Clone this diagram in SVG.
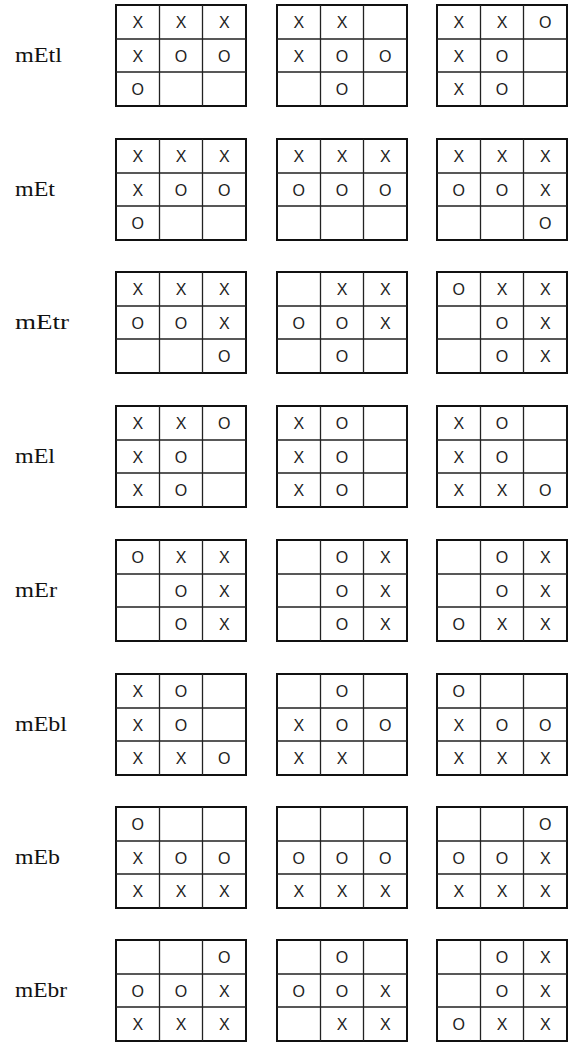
<svg xmlns="http://www.w3.org/2000/svg" xmlns:xlink="http://www.w3.org/1999/xlink" width="569" height="1042" viewBox="0 0 569 1042">
<style>
.lbl{font-family:"Liberation Serif","Times New Roman",serif;font-size:21px;fill:#111}
.m{font-family:"Liberation Sans",Arial,sans-serif;font-size:16px;fill:#222;text-anchor:middle}
.outer{fill:#fff;stroke:#111;stroke-width:2}
.inner{fill:none;stroke:#222;stroke-width:1.3}
</style>
<defs>
<g id="grid">
<rect class="outer" x="0" y="0" width="130" height="101"/>
<path class="inner" d="M43.5,0V101M86.5,0V101M0,34H130M0,67H130"/>
</g>
</defs>
<rect width="569" height="1042" fill="#fff"/>

<g id="row-mEtl" transform="translate(0,5)">
<text class="lbl" x="15" y="56.5" textLength="47" lengthAdjust="spacingAndGlyphs">mEtl</text>
<g id="mEtl-1" transform="translate(116,0)"><use xlink:href="#grid"/>
<text class="m" x="21.75" y="23">X</text><text class="m" x="65" y="23">X</text><text class="m" x="108.25" y="23">X</text>
<text class="m" x="21.75" y="56.5">X</text><text class="m" x="65" y="56.5">O</text><text class="m" x="108.25" y="56.5">O</text>
<text class="m" x="21.75" y="90">O</text></g>
<g id="mEtl-2" transform="translate(277,0)"><use xlink:href="#grid"/>
<text class="m" x="21.75" y="23">X</text><text class="m" x="65" y="23">X</text>
<text class="m" x="21.75" y="56.5">X</text><text class="m" x="65" y="56.5">O</text><text class="m" x="108.25" y="56.5">O</text>
<text class="m" x="65" y="90">O</text></g>
<g id="mEtl-3" transform="translate(437,0)"><use xlink:href="#grid"/>
<text class="m" x="21.75" y="23">X</text><text class="m" x="65" y="23">X</text><text class="m" x="108.25" y="23">O</text>
<text class="m" x="21.75" y="56.5">X</text><text class="m" x="65" y="56.5">O</text>
<text class="m" x="21.75" y="90">X</text><text class="m" x="65" y="90">O</text></g>
</g>

<g id="row-mEt" transform="translate(0,139)">
<text class="lbl" x="15" y="56.5" textLength="40" lengthAdjust="spacingAndGlyphs">mEt</text>
<g id="mEt-1" transform="translate(116,0)"><use xlink:href="#grid"/>
<text class="m" x="21.75" y="23">X</text><text class="m" x="65" y="23">X</text><text class="m" x="108.25" y="23">X</text>
<text class="m" x="21.75" y="56.5">X</text><text class="m" x="65" y="56.5">O</text><text class="m" x="108.25" y="56.5">O</text>
<text class="m" x="21.75" y="90">O</text></g>
<g id="mEt-2" transform="translate(277,0)"><use xlink:href="#grid"/>
<text class="m" x="21.75" y="23">X</text><text class="m" x="65" y="23">X</text><text class="m" x="108.25" y="23">X</text>
<text class="m" x="21.75" y="56.5">O</text><text class="m" x="65" y="56.5">O</text><text class="m" x="108.25" y="56.5">O</text></g>
<g id="mEt-3" transform="translate(437,0)"><use xlink:href="#grid"/>
<text class="m" x="21.75" y="23">X</text><text class="m" x="65" y="23">X</text><text class="m" x="108.25" y="23">X</text>
<text class="m" x="21.75" y="56.5">O</text><text class="m" x="65" y="56.5">O</text><text class="m" x="108.25" y="56.5">X</text>
<text class="m" x="108.25" y="90">O</text></g>
</g>

<g id="row-mEtr" transform="translate(0,272)">
<text class="lbl" x="15" y="56.5" textLength="54" lengthAdjust="spacingAndGlyphs">mEtr</text>
<g id="mEtr-1" transform="translate(116,0)"><use xlink:href="#grid"/>
<text class="m" x="21.75" y="23">X</text><text class="m" x="65" y="23">X</text><text class="m" x="108.25" y="23">X</text>
<text class="m" x="21.75" y="56.5">O</text><text class="m" x="65" y="56.5">O</text><text class="m" x="108.25" y="56.5">X</text>
<text class="m" x="108.25" y="90">O</text></g>
<g id="mEtr-2" transform="translate(277,0)"><use xlink:href="#grid"/>
<text class="m" x="65" y="23">X</text><text class="m" x="108.25" y="23">X</text>
<text class="m" x="21.75" y="56.5">O</text><text class="m" x="65" y="56.5">O</text><text class="m" x="108.25" y="56.5">X</text>
<text class="m" x="65" y="90">O</text></g>
<g id="mEtr-3" transform="translate(437,0)"><use xlink:href="#grid"/>
<text class="m" x="21.75" y="23">O</text><text class="m" x="65" y="23">X</text><text class="m" x="108.25" y="23">X</text>
<text class="m" x="65" y="56.5">O</text><text class="m" x="108.25" y="56.5">X</text>
<text class="m" x="65" y="90">O</text><text class="m" x="108.25" y="90">X</text></g>
</g>

<g id="row-mEl" transform="translate(0,406)">
<text class="lbl" x="15" y="56.5" textLength="40" lengthAdjust="spacingAndGlyphs">mEl</text>
<g id="mEl-1" transform="translate(116,0)"><use xlink:href="#grid"/>
<text class="m" x="21.75" y="23">X</text><text class="m" x="65" y="23">X</text><text class="m" x="108.25" y="23">O</text>
<text class="m" x="21.75" y="56.5">X</text><text class="m" x="65" y="56.5">O</text>
<text class="m" x="21.75" y="90">X</text><text class="m" x="65" y="90">O</text></g>
<g id="mEl-2" transform="translate(277,0)"><use xlink:href="#grid"/>
<text class="m" x="21.75" y="23">X</text><text class="m" x="65" y="23">O</text>
<text class="m" x="21.75" y="56.5">X</text><text class="m" x="65" y="56.5">O</text>
<text class="m" x="21.75" y="90">X</text><text class="m" x="65" y="90">O</text></g>
<g id="mEl-3" transform="translate(437,0)"><use xlink:href="#grid"/>
<text class="m" x="21.75" y="23">X</text><text class="m" x="65" y="23">O</text>
<text class="m" x="21.75" y="56.5">X</text><text class="m" x="65" y="56.5">O</text>
<text class="m" x="21.75" y="90">X</text><text class="m" x="65" y="90">X</text><text class="m" x="108.25" y="90">O</text></g>
</g>

<g id="row-mEr" transform="translate(0,540)">
<text class="lbl" x="15" y="56.5" textLength="42" lengthAdjust="spacingAndGlyphs">mEr</text>
<g id="mEr-1" transform="translate(116,0)"><use xlink:href="#grid"/>
<text class="m" x="21.75" y="23">O</text><text class="m" x="65" y="23">X</text><text class="m" x="108.25" y="23">X</text>
<text class="m" x="65" y="56.5">O</text><text class="m" x="108.25" y="56.5">X</text>
<text class="m" x="65" y="90">O</text><text class="m" x="108.25" y="90">X</text></g>
<g id="mEr-2" transform="translate(277,0)"><use xlink:href="#grid"/>
<text class="m" x="65" y="23">O</text><text class="m" x="108.25" y="23">X</text>
<text class="m" x="65" y="56.5">O</text><text class="m" x="108.25" y="56.5">X</text>
<text class="m" x="65" y="90">O</text><text class="m" x="108.25" y="90">X</text></g>
<g id="mEr-3" transform="translate(437,0)"><use xlink:href="#grid"/>
<text class="m" x="65" y="23">O</text><text class="m" x="108.25" y="23">X</text>
<text class="m" x="65" y="56.5">O</text><text class="m" x="108.25" y="56.5">X</text>
<text class="m" x="21.75" y="90">O</text><text class="m" x="65" y="90">X</text><text class="m" x="108.25" y="90">X</text></g>
</g>

<g id="row-mEbl" transform="translate(0,674)">
<text class="lbl" x="15" y="56.5" textLength="52" lengthAdjust="spacingAndGlyphs">mEbl</text>
<g id="mEbl-1" transform="translate(116,0)"><use xlink:href="#grid"/>
<text class="m" x="21.75" y="23">X</text><text class="m" x="65" y="23">O</text>
<text class="m" x="21.75" y="56.5">X</text><text class="m" x="65" y="56.5">O</text>
<text class="m" x="21.75" y="90">X</text><text class="m" x="65" y="90">X</text><text class="m" x="108.25" y="90">O</text></g>
<g id="mEbl-2" transform="translate(277,0)"><use xlink:href="#grid"/>
<text class="m" x="65" y="23">O</text>
<text class="m" x="21.75" y="56.5">X</text><text class="m" x="65" y="56.5">O</text><text class="m" x="108.25" y="56.5">O</text>
<text class="m" x="21.75" y="90">X</text><text class="m" x="65" y="90">X</text></g>
<g id="mEbl-3" transform="translate(437,0)"><use xlink:href="#grid"/>
<text class="m" x="21.75" y="23">O</text>
<text class="m" x="21.75" y="56.5">X</text><text class="m" x="65" y="56.5">O</text><text class="m" x="108.25" y="56.5">O</text>
<text class="m" x="21.75" y="90">X</text><text class="m" x="65" y="90">X</text><text class="m" x="108.25" y="90">X</text></g>
</g>

<g id="row-mEb" transform="translate(0,807)">
<text class="lbl" x="15" y="56.5" textLength="45" lengthAdjust="spacingAndGlyphs">mEb</text>
<g id="mEb-1" transform="translate(116,0)"><use xlink:href="#grid"/>
<text class="m" x="21.75" y="23">O</text>
<text class="m" x="21.75" y="56.5">X</text><text class="m" x="65" y="56.5">O</text><text class="m" x="108.25" y="56.5">O</text>
<text class="m" x="21.75" y="90">X</text><text class="m" x="65" y="90">X</text><text class="m" x="108.25" y="90">X</text></g>
<g id="mEb-2" transform="translate(277,0)"><use xlink:href="#grid"/>
<text class="m" x="21.75" y="56.5">O</text><text class="m" x="65" y="56.5">O</text><text class="m" x="108.25" y="56.5">O</text>
<text class="m" x="21.75" y="90">X</text><text class="m" x="65" y="90">X</text><text class="m" x="108.25" y="90">X</text></g>
<g id="mEb-3" transform="translate(437,0)"><use xlink:href="#grid"/>
<text class="m" x="108.25" y="23">O</text>
<text class="m" x="21.75" y="56.5">O</text><text class="m" x="65" y="56.5">O</text><text class="m" x="108.25" y="56.5">X</text>
<text class="m" x="21.75" y="90">X</text><text class="m" x="65" y="90">X</text><text class="m" x="108.25" y="90">X</text></g>
</g>

<g id="row-mEbr" transform="translate(0,940)">
<text class="lbl" x="15" y="56.5" textLength="52" lengthAdjust="spacingAndGlyphs">mEbr</text>
<g id="mEbr-1" transform="translate(116,0)"><use xlink:href="#grid"/>
<text class="m" x="108.25" y="23">O</text>
<text class="m" x="21.75" y="56.5">O</text><text class="m" x="65" y="56.5">O</text><text class="m" x="108.25" y="56.5">X</text>
<text class="m" x="21.75" y="90">X</text><text class="m" x="65" y="90">X</text><text class="m" x="108.25" y="90">X</text></g>
<g id="mEbr-2" transform="translate(277,0)"><use xlink:href="#grid"/>
<text class="m" x="65" y="23">O</text>
<text class="m" x="21.75" y="56.5">O</text><text class="m" x="65" y="56.5">O</text><text class="m" x="108.25" y="56.5">X</text>
<text class="m" x="65" y="90">X</text><text class="m" x="108.25" y="90">X</text></g>
<g id="mEbr-3" transform="translate(437,0)"><use xlink:href="#grid"/>
<text class="m" x="65" y="23">O</text><text class="m" x="108.25" y="23">X</text>
<text class="m" x="65" y="56.5">O</text><text class="m" x="108.25" y="56.5">X</text>
<text class="m" x="21.75" y="90">O</text><text class="m" x="65" y="90">X</text><text class="m" x="108.25" y="90">X</text></g>
</g>
</svg>
